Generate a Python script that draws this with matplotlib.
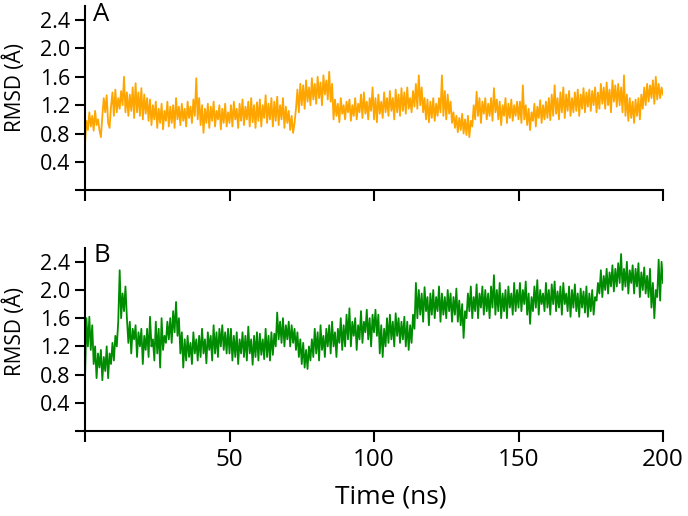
import numpy as np
import matplotlib
matplotlib.use("Agg")
import matplotlib.pyplot as plt

plt.rcParams['font.family'] = ['Open Sans', 'DejaVu Sans']

# RMSD traces, one value every 0.5 ns (0 .. 200 ns)
dt = 0.5
rmsd_a = [
    0.65, 0.98, 0.85, 1.1, 0.9, 1.05, 0.84, 1.12, 0.92, 1.0,
    0.85, 0.75, 1.05, 1.3, 1.1, 1.34, 0.95, 0.88, 1.18, 1.38,
    1.05, 1.42, 1.1, 1.3, 1.15, 1.4, 1.2, 1.6, 1.1, 1.38,
    1.05, 1.35, 1.12, 1.45, 1.02, 1.51, 1.1, 1.38, 1.05, 1.44,
    1.0, 1.35, 1.08, 1.3, 0.98, 1.28, 0.92, 1.2, 1.0, 1.25,
    0.88, 1.15, 0.95, 1.22, 0.86, 1.12, 0.98, 1.25, 0.9, 1.18,
    0.95, 1.2, 0.88, 1.3, 1.0, 1.18, 0.92, 1.22, 0.98, 1.15,
    0.9, 1.25, 1.02, 1.18, 0.95, 1.28, 1.05, 1.58, 1.0, 1.3,
    0.92, 1.2, 0.81, 1.15, 0.95, 1.22, 0.88, 1.18, 0.98, 1.25,
    0.9, 1.12, 1.0, 1.2, 0.86, 1.15, 0.95, 1.22, 0.9, 1.1,
    0.95, 1.2, 0.9, 1.25, 1.0, 1.15, 0.88, 1.22, 0.98, 1.28,
    0.92, 1.18, 1.0, 1.25, 0.9, 1.3, 0.96, 1.2, 0.88, 1.24,
    0.98, 1.28, 0.9, 1.2, 1.02, 1.34, 0.95, 1.22, 1.0, 1.3,
    0.9, 1.25, 0.98, 1.32, 0.92, 1.2, 1.0, 1.3, 0.88, 1.18,
    0.95, 1.12, 0.85, 1.05, 0.81, 0.95, 1.15, 1.42, 1.1, 1.5,
    1.2, 1.48, 1.15, 1.55, 1.25, 1.45, 1.2, 1.58, 1.28, 1.5,
    1.22, 1.6, 1.3, 1.52, 1.2, 1.62, 1.35, 1.55, 1.28, 1.67,
    1.25, 1.5, 1.0, 1.28, 1.05, 1.22, 0.96, 1.3, 1.08, 1.2,
    1.0, 1.25, 1.1, 1.28, 0.98, 1.2, 1.05, 1.3, 1.0, 1.22,
    1.1, 1.35, 1.02, 1.38, 1.08, 1.25, 1.0, 1.3, 1.12, 1.45,
    1.0, 1.3, 0.96, 1.35, 1.08, 1.25, 1.02, 1.38, 1.1, 1.3,
    1.05, 1.4, 1.12, 1.3, 1.0, 1.42, 1.1, 1.35, 1.05, 1.44,
    1.12, 1.38, 1.08, 1.45, 1.15, 1.3, 1.1, 1.4, 1.18, 1.5,
    1.15, 1.62, 1.2, 1.45, 1.1, 1.3, 1.0, 1.28, 0.96, 1.25,
    1.02, 1.3, 0.98, 1.22, 1.05, 1.3, 1.1, 1.62, 1.05, 1.4,
    1.0, 1.35, 1.08, 1.25, 0.95, 1.1, 0.88, 1.05, 0.82, 1.02,
    0.85, 1.08, 0.8, 1.0, 0.78, 1.05, 0.75, 0.98, 0.9, 1.2,
    1.0, 1.39, 1.05, 1.3, 0.95, 1.25, 1.08, 1.3, 1.0, 1.22,
    1.05, 1.3, 0.98, 1.44, 1.1, 1.28, 1.0, 1.25, 0.92, 1.2,
    1.05, 1.3, 0.95, 1.22, 1.02, 1.28, 0.98, 1.2, 1.05, 1.25,
    1.0, 1.25, 0.95, 1.48, 1.0, 1.2, 0.92, 1.15, 0.85, 1.1,
    0.98, 1.22, 0.9, 1.18, 1.02, 1.27, 0.95, 1.2, 1.0, 1.25,
    1.02, 1.3, 0.99, 1.35, 1.05, 1.48, 1.08, 1.3, 1.0, 1.38,
    1.1, 1.45, 1.02, 1.35, 1.12, 1.4, 1.05, 1.3, 1.1, 1.38,
    1.12, 1.42, 1.05, 1.35, 1.15, 1.44, 1.1, 1.38, 1.18, 1.42,
    1.12, 1.4, 1.2, 1.45, 1.1, 1.38, 1.15, 1.5, 1.22, 1.45,
    1.15, 1.52, 1.2, 1.42, 1.1, 1.55, 1.25, 1.48, 1.18, 1.5,
    1.2, 1.45, 1.1, 1.62, 1.05, 1.35, 0.98, 1.3, 1.02, 1.25,
    0.95, 1.28, 1.05, 1.3, 1.0, 1.35, 1.15, 1.45, 1.2, 1.5,
    1.25, 1.48, 1.3, 1.55, 1.22, 1.6, 1.28, 1.5, 1.3, 1.45,
    1.35,
]
rmsd_b = [
    0.75, 1.6, 1.2, 1.62, 1.15, 1.5, 0.95, 1.2, 0.75, 1.1,
    0.9, 1.15, 0.72, 1.05, 0.85, 1.2, 0.75, 1.1, 0.95, 1.25,
    1.0, 1.35, 1.2, 1.55, 2.28, 1.6, 1.95, 1.7, 2.05, 1.6,
    1.25, 1.55, 1.1, 1.45, 1.3, 1.5, 1.05, 1.4, 1.2, 1.45,
    0.95, 1.35, 1.15, 1.45, 1.05, 1.62, 1.2, 1.3, 1.0, 1.55,
    1.1, 1.45, 0.9, 1.6, 1.15, 1.35, 1.25, 1.55, 1.3, 1.6,
    1.25, 1.7, 1.4, 1.83, 1.35, 1.6, 1.1, 1.4, 0.9, 1.3,
    1.0, 1.35, 1.05, 1.25, 0.95, 1.4, 1.1, 1.3, 1.0, 1.35,
    1.05, 1.45, 1.1, 1.3, 0.96, 1.4, 1.15, 1.35, 1.0, 1.5,
    1.1, 1.4, 1.05, 1.45, 1.2, 1.5, 1.15, 1.4, 1.1, 1.45,
    1.1, 1.45, 1.0, 1.35, 1.05, 1.4, 0.95, 1.3, 1.1, 1.4,
    1.05, 1.35, 1.0, 1.48, 1.1, 1.3, 0.94, 1.35, 1.05, 1.4,
    1.0, 1.38, 1.08, 1.3, 1.02, 1.45, 1.05, 1.35, 1.0, 1.4,
    1.08, 1.38, 1.2, 1.68, 1.3, 1.55, 1.25, 1.6, 1.2, 1.5,
    1.3, 1.55, 1.2, 1.5, 1.25, 1.45, 1.15, 1.4, 1.05, 1.3,
    0.95, 1.25, 0.9, 1.15, 0.88, 1.2, 1.0, 1.3, 1.05, 1.45,
    1.1, 1.4, 1.0, 1.5, 1.15, 1.35, 1.05, 1.45, 1.2, 1.5,
    1.1, 1.55, 1.2, 1.4, 1.05, 1.45, 1.25, 1.6, 1.15, 1.5,
    1.2, 1.65, 1.3, 1.74, 1.2, 1.55, 1.35, 1.6, 1.15, 1.5,
    1.3, 1.7, 1.25, 1.55, 1.4, 1.72, 1.3, 1.6, 1.2, 1.65,
    1.4, 1.72, 1.35, 1.65, 1.1, 1.5, 1.05, 1.45, 1.2, 1.6,
    1.25, 1.65, 1.3, 1.55, 1.2, 1.67, 1.35, 1.6, 1.25, 1.55,
    1.3, 1.62, 1.2, 1.55, 1.15, 1.5, 1.25, 1.65, 1.45, 2.1,
    1.6, 2.0, 1.65, 1.95, 1.55, 2.04, 1.7, 1.9, 1.5, 1.95,
    1.65, 2.0, 1.6, 1.9, 1.7, 2.05, 1.55, 1.95, 1.65, 1.9,
    1.6, 2.0, 1.7, 1.95, 1.55, 1.9, 1.65, 2.02, 1.55, 1.85,
    1.5, 1.8, 1.32, 1.7, 1.6, 1.95, 1.7, 2.05, 1.6, 1.9,
    1.7, 2.08, 1.6, 1.95, 1.75, 2.05, 1.65, 2.0, 1.7, 1.95,
    1.6, 2.05, 1.75, 2.21, 1.65, 2.0, 1.7, 2.1, 1.6, 1.95,
    1.7, 2.0, 1.6, 2.05, 1.75, 1.95, 1.65, 2.1, 1.7, 2.0,
    1.75, 2.1, 1.7, 2.0, 1.8, 2.12, 1.65, 1.95, 1.52, 1.9,
    1.7, 2.05, 1.75, 2.14, 1.65, 2.0, 1.8, 1.95, 1.7, 2.1,
    1.75, 2.0, 1.65, 2.08, 1.8, 2.12, 1.7, 1.98, 1.75, 2.05,
    1.65, 2.1, 1.8, 1.95, 1.7, 2.05, 1.62, 2.0, 1.75, 2.08,
    1.7, 1.95, 1.62, 2.02, 1.75, 1.98, 1.68, 2.05, 1.62, 1.95,
    1.7, 2.0, 1.65, 1.9, 1.85, 2.1, 1.95, 2.28, 1.9, 2.2,
    2.0, 2.3, 1.95, 2.25, 2.05, 2.35, 1.98, 2.3, 2.05, 2.38,
    2.1, 2.51, 2.0, 2.3, 2.05, 2.4, 1.95, 2.28, 2.1, 2.35,
    1.95, 2.3, 2.05, 2.38, 1.9, 2.25, 2.0, 2.32, 1.95, 2.2,
    1.9, 2.3, 1.75, 2.1, 1.6, 2.0, 1.9, 2.43, 1.85, 2.4,
    2.1,
]
panel_labels = ["A", "B"]
colors = ["#ffa500", "#008c00"]
xticks = [0, 50, 100, 150, 200]
yticks = [0, 0.4, 0.8, 1.2, 1.6, 2.0, 2.4]
ytick_labels = ["", "0.4", "0.8", "1.2", "1.6", "2.0", "2.4"]

time = np.arange(len(rmsd_a)) * dt

fig = plt.figure(figsize=(6.88, 5.16), dpi=100)
W, H = 688, 516
x0, x1 = 85, 663
rects = [(x0 / W, 1 - 190.4 / H, (x1 - x0) / W, 184.6 / H),
         (x0 / W, 1 - 431 / H, (x1 - x0) / W, 183.3 / H)]

for i, (y, c, lab) in enumerate(zip([rmsd_a, rmsd_b], colors, panel_labels)):
    ax = fig.add_axes(rects[i])
    ax.plot(time, y, color=c, lw=1.3)
    ax.set_xlim(0, 200)
    ax.set_ylim(0, 2.6)
    ax.set_yticks(yticks)
    ax.set_yticklabels(ytick_labels)
    ax.set_xticks(xticks)
    if i == 0:
        ax.set_xticklabels([])
    else:
        ax.set_xticklabels(["", "50", "100", "150", "200"])
    ax.spines['top'].set_visible(False)
    ax.spines['right'].set_visible(False)
    for s in ['left', 'bottom']:
        ax.spines[s].set_linewidth(1.5)
    ax.tick_params(axis='y', length=7, width=1.5, labelsize=15.5, pad=3.5)
    ax.tick_params(axis='x', length=8, width=1.5, labelsize=17.5, pad=4)
    ax.text(0.014, 0.955, lab, transform=ax.transAxes, fontsize=18.5,
            ha='left', va='center')

fig.text(15 / W, 1 - 88 / H, "RMSD (Å)", rotation=90, ha='center', va='center', fontsize=15)
fig.text(15 / W, 1 - 331 / H, "RMSD (Å)", rotation=90, ha='center', va='center', fontsize=15)
fig.text(391 / W, 1 - 497 / H, "Time (ns)", ha='center', va='center', fontsize=19)

fig.savefig("out.png", dpi=100)
